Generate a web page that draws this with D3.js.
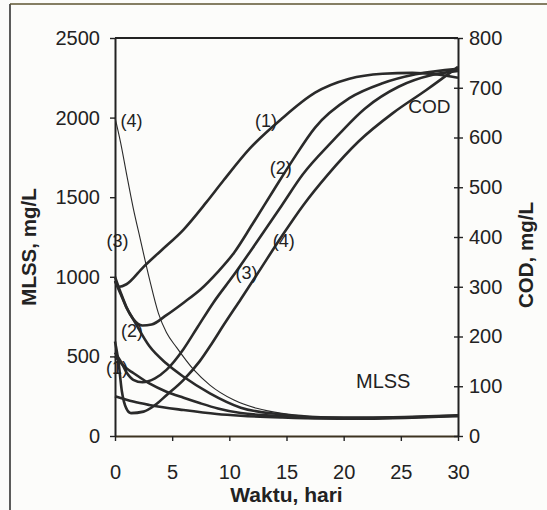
<!DOCTYPE html>
<html>
<head>
<meta charset="utf-8">
<script src="https://cdn.jsdelivr.net/npm/d3@7"></script>
<style>
  html, body { margin: 0; padding: 0; background: #fcfcfa; }
  svg { display: block; font-family: "Liberation Sans", Arial, sans-serif; }
</style>
</head>
<body>
<svg id="chart" width="547" height="510"></svg>
<script>
// values (days, COD mg/L)
const cod1Days = [0, 0.4, 1, 2.5, 4, 6, 8, 9.5, 11.8, 14.6, 17.5, 20.5, 23.4, 26, 28, 30]
const cod1 = [312, 300, 305, 340, 372, 415, 470, 514, 578, 638, 690, 718, 728, 730, 727, 720]
const cod2Days = [0, 0.5, 1, 1.6, 2.4, 3.2, 4.5, 6, 7.5, 9, 10.4, 12, 13.9, 15.5, 17.5, 20.5, 23.4, 26.3, 30]
const cod2 = [311, 285, 258, 235, 222, 224, 243, 268, 295, 330, 368, 425, 495, 553, 620, 679, 709, 727, 738]
const cod3Days = [0, 0.5, 1, 1.6, 2.4, 3.5, 4.5, 6, 7.2, 8.6, 10.4, 12.4, 14.6, 16.4, 19, 21.9, 24.8, 27.8, 30]
const cod3 = [168, 150, 128, 113, 108, 116, 133, 175, 218, 268, 324, 390, 464, 525, 592, 659, 702, 726, 734]
const cod4Days = [0, 0.3, 0.6, 1, 1.4, 2.5, 3.5, 4.5, 6, 7.4, 8.5, 9.5, 11, 12.4, 14.6, 16.5, 18.6, 21.3, 24.3, 27.2, 30]
const cod4 = [190, 150, 90, 55, 46, 49, 62, 82, 113, 150, 187, 223, 275, 324, 402, 465, 525, 592, 649, 695, 742]

// MLSS mg/L
const mlss1Days = [0, 1.6, 3, 6, 8.9, 11, 14.6, 18, 22, 26, 30]
const mlss1 = [250, 216, 195, 163, 138, 127, 116, 110, 109, 115, 125]
const mlss2Days = [0, 0.5, 1, 1.6, 3, 4.5, 6, 7.4, 9, 11, 14.6, 18, 22, 26, 30]
const mlss2 = [500, 460, 425, 396, 330, 278, 240, 207, 173, 144, 125, 113, 112, 118, 128]
const mlss3Days = [0, 0.5, 1, 1.7, 3, 4.5, 6, 8.3, 11, 14.6, 18, 22, 26, 30]
const mlss3 = [1000, 900, 810, 720, 565, 455, 372, 268, 178, 135, 116, 114, 120, 130]
const mlss4Days = [0, 0.5, 1, 1.6, 2.2, 3, 3.8, 4.5, 5.4, 6.9, 8.3, 10.4, 12.4, 14.6, 17, 20, 25, 30]
const mlss4 = [2000, 1840, 1650, 1430, 1240, 990, 770, 650, 555, 415, 320, 226, 174, 142, 125, 118, 120, 128]

const xTicks = [0, 5, 10, 15, 20, 25, 30]
const mlssTicks = [0, 500, 1000, 1500, 2000, 2500]
const codTicks = [0, 100, 200, 300, 400, 500, 600, 700, 800]

// curve labels: [text, day, value, axis]
const notes = [
  ["(4)", 1.44, 1982, "mlss"],
  ["(3)", 0.22, 1231, "mlss"],
  ["(2)", 1.49, 660, "mlss"],
  ["(1)", 0.18, 433, "mlss"],
  ["(1)", 13.2, 634, "cod"],
  ["(2)", 14.5, 539, "cod"],
  ["(3)", 11.5, 328, "cod"],
  ["(4)", 14.75, 392, "cod"]
]

const svgWidth = 547, svgHeight = 510
const margin = { top: 38, right: 89, bottom: 74, left: 115 }
const width = svgWidth - margin.left - margin.right
const height = svgHeight - margin.top - margin.bottom

const svg = d3.select('#chart')

// page frame of the scan
svg.append('line').attr('x1', 10).attr('x2', 10).attr('y1', 4).attr('y2', svgHeight)
  .attr('stroke', '#333').attr('stroke-width', 1.6)
svg.append('line').attr('x1', 10).attr('x2', svgWidth).attr('y1', 4).attr('y2', 4)
  .attr('stroke', '#5e5430').attr('stroke-width', 1.6)

const g = svg.append('g').attr('transform', `translate(${margin.left},${margin.top})`)

const x = d3.scaleLinear().domain([0, 30]).range([0, width])
const yL = d3.scaleLinear().domain([0, 2500]).range([height, 0])
const yR = d3.scaleLinear().domain([0, 800]).range([height, 0])
const fmt = d3.format('d')

// top border of plot
g.append('line').attr('x1', 0).attr('x2', width).attr('y1', 0).attr('y2', 0)
  .attr('stroke', '#222').attr('stroke-width', 2)

const xAxis = g.append('g').attr('transform', `translate(0,${height})`)
  .call(d3.axisBottom(x).tickValues(xTicks).tickFormat(fmt).tickSize(5).tickSizeOuter(0).tickPadding(24))
const leftAxis = g.append('g')
  .call(d3.axisLeft(yL).tickValues(mlssTicks).tickFormat(fmt).tickSize(5).tickSizeOuter(0).tickPadding(10))
const rightAxis = g.append('g').attr('transform', `translate(${width},0)`)
  .call(d3.axisRight(yR).tickValues(codTicks).tickFormat(fmt).tickSize(5).tickSizeOuter(0).tickPadding(6))
rightAxis.selectAll('.tick line').attr('x1', -4)

;[xAxis, leftAxis, rightAxis].forEach(a => {
  a.select('.domain').attr('stroke', '#222').attr('stroke-width', 2)
  a.selectAll('.tick line').attr('stroke', '#222').attr('stroke-width', 1.4)
  a.selectAll('text').attr('font-size', 20).attr('fill', '#222')
    .attr('font-family', '"Liberation Sans", Arial, sans-serif')
})
xAxis.select('.domain').attr('stroke', '#3d3320')

// axis titles
svg.append('text').attr('transform', `translate(36,247) rotate(-90)`)
  .attr('text-anchor', 'middle').attr('font-size', 20.5).attr('font-weight', 'bold')
  .attr('fill', '#222').text('MLSS, mg/L')
svg.append('text').attr('transform', `translate(533,255) rotate(-90)`)
  .attr('text-anchor', 'middle').attr('font-size', 20.5).attr('font-weight', 'bold')
  .attr('fill', '#222').text('COD, mg/L')
svg.append('text').attr('x', margin.left + width / 2).attr('y', 502)
  .attr('text-anchor', 'middle').attr('font-size', 21).attr('font-weight', 'bold')
  .attr('fill', '#222').text('Waktu, hari')

const series = [
  { days: mlss4Days, vals: mlss4, scale: yL, w: 1.1 },
  { days: mlss1Days, vals: mlss1, scale: yL, w: 2.6 },
  { days: mlss2Days, vals: mlss2, scale: yL, w: 2.6 },
  { days: mlss3Days, vals: mlss3, scale: yL, w: 2.6 },
  { days: cod1Days, vals: cod1, scale: yR, w: 2.6 },
  { days: cod2Days, vals: cod2, scale: yR, w: 2.6 },
  { days: cod3Days, vals: cod3, scale: yR, w: 2.6 },
  { days: cod4Days, vals: cod4, scale: yR, w: 2.6 }
]

series.forEach(s => {
  const line = d3.line()
    .x((d, i) => x(s.days[i]))
    .y(d => s.scale(d))
    .curve(d3.curveMonotoneX)
  g.append('path').datum(s.vals)
    .attr('fill', 'none').attr('stroke', '#2a2a2a')
    .attr('stroke-width', s.w).attr('stroke-linejoin', 'round')
    .attr('d', line)
})

// labels on the curves
g.selectAll('.note').data(notes).enter().append('text')
  .attr('class', 'note')
  .attr('x', d => x(d[1]))
  .attr('y', d => (d[3] === 'mlss' ? yL : yR)(d[2]))
  .attr('dy', '0.36em').attr('text-anchor', 'middle')
  .attr('font-size', 18).attr('fill', '#222')
  .text(d => d[0])

g.append('text').attr('x', x(27.5)).attr('y', yR(662)).attr('dy', '0.36em')
  .attr('text-anchor', 'middle').attr('font-size', 19).attr('fill', '#222').text('COD')
g.append('text').attr('x', x(23.46)).attr('y', yR(111.6)).attr('dy', '0.36em')
  .attr('text-anchor', 'middle').attr('font-size', 20).attr('fill', '#222').text('MLSS')
</script>
</body>
</html>
